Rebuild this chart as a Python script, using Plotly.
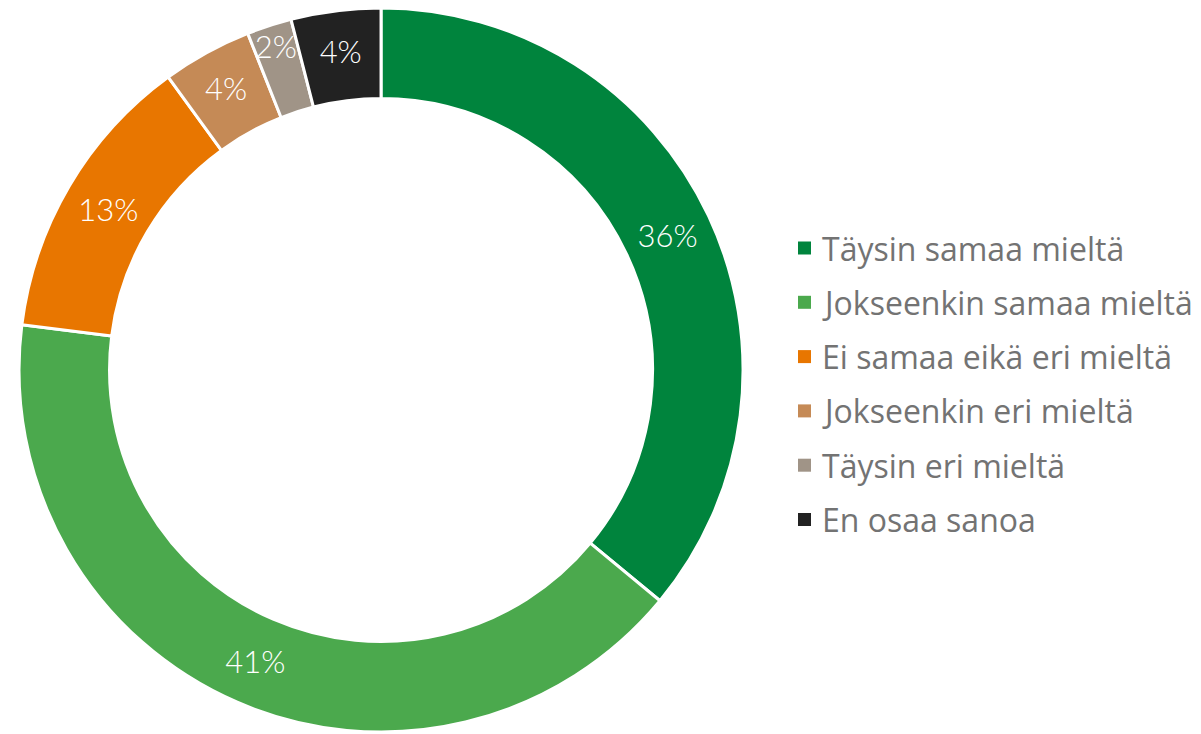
import plotly.graph_objects as go

labels = ["Täysin samaa mieltä", "Jokseenkin samaa mieltä", "Ei samaa eikä eri mieltä",
          "Jokseenkin eri mieltä", "Täysin eri mieltä", "En osaa sanoa"]
values = [36, 41, 13, 4, 2, 4]
colors = ["#00843D", "#4BA94D", "#E87600", "#C58A56", "#A09487", "#222222"]

W, H = 1201, 734

fig = go.Figure()
fig.add_trace(go.Pie(
    labels=labels, values=values, sort=False, direction="clockwise", rotation=0,
    hole=0.75,
    marker=dict(colors=colors, line=dict(color="white", width=3)),
    texttemplate="%{percent:.0%}", textposition="inside",
    insidetextorientation="horizontal",
    textfont=dict(family="Lato", size=31, color="white", weight=300),
    domain=dict(x=[0.0006, 0.6206], y=[0.0136, 1.0]),
    showlegend=False, hoverinfo="label+percent",
))

# legend drawn as shapes + annotations (uniform row spacing like the reference)
y_first = 240
step = 54.3
for i, (lab, col) in enumerate(zip(labels, colors)):
    yc = (H - (y_first + i * step)) / H
    fig.add_shape(type="rect", xref="paper", yref="paper",
                  x0=790 / W, x1=803 / W, y0=yc - 6.5 / H, y1=yc + 6.5 / H,
                  fillcolor=col, line=dict(width=0))
    fig.add_annotation(xref="paper", yref="paper", x=812 / W, y=yc,
                       text=lab, showarrow=False, xanchor="left", yanchor="middle",
                       font=dict(family="Open Sans", size=32, color="#737373"))

fig.update_layout(
    width=W, height=H, margin=dict(l=0, r=0, t=0, b=0),
    paper_bgcolor="white", plot_bgcolor="white",
    uniformtext=dict(minsize=31, mode="show"),
)
fig.write_html("out.html")
